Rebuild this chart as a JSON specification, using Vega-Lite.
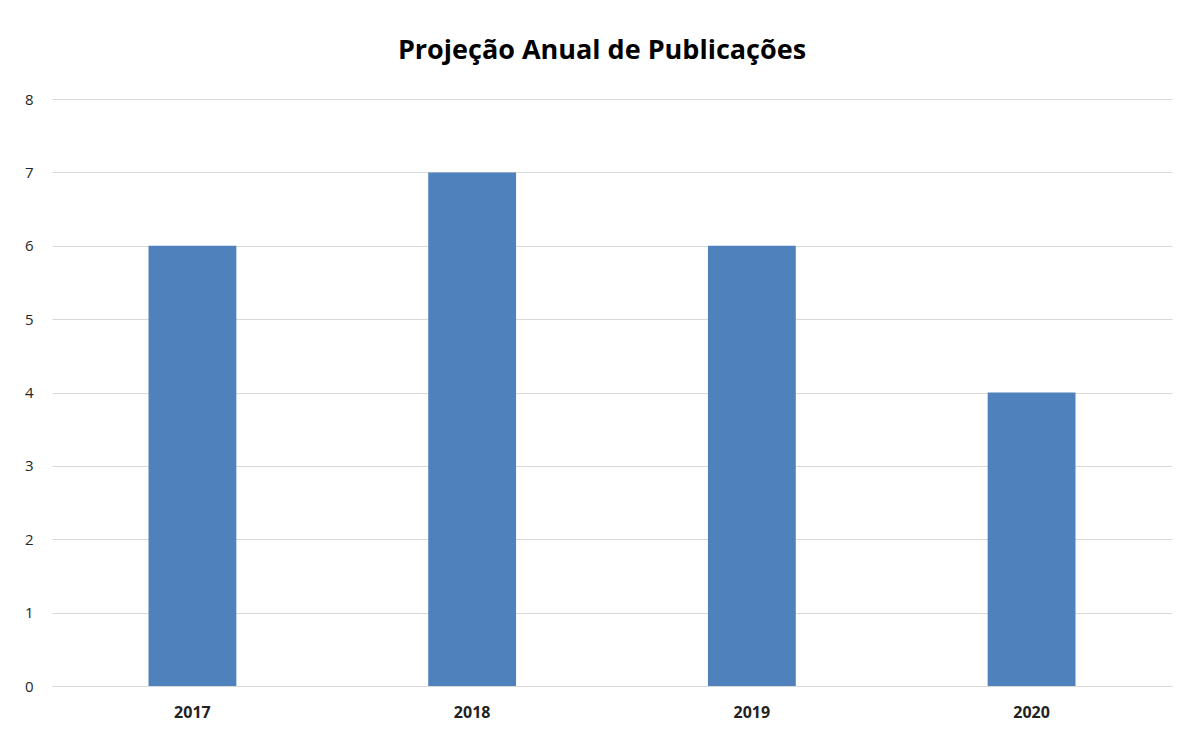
{
  "$schema": "https://vega.github.io/schema/vega-lite/v6.json",
  "autosize": "none",
  "width": 1120,
  "height": 587,
  "padding": {"left": 52, "top": 99, "right": 15, "bottom": 47},
  "background": "white",
  "title": {
    "text": "Projeção Anual de Publicações",
    "font": "Open Sans",
    "fontSize": 27,
    "fontWeight": "bold",
    "color": "#000000",
    "anchor": "middle",
    "dx": -10,
    "offset": 27
  },
  "data": {
    "values": [
      {"ano": "2017", "publicacoes": 6},
      {"ano": "2018", "publicacoes": 7},
      {"ano": "2019", "publicacoes": 6},
      {"ano": "2020", "publicacoes": 4}
    ]
  },
  "mark": {"type": "bar", "color": "#4F81BD"},
  "encoding": {
    "x": {
      "field": "ano",
      "type": "nominal",
      "scale": {"paddingInner": 0.686, "paddingOuter": 0.345},
      "axis": {
        "title": null,
        "labelAngle": 0,
        "ticks": false,
        "domain": true,
        "domainColor": "#d9d9d9",
        "labelFont": "Open Sans",
        "labelFontSize": 16,
        "labelFontWeight": "bold",
        "labelColor": "#222222",
        "labelPadding": 18
      }
    },
    "y": {
      "field": "publicacoes",
      "type": "quantitative",
      "scale": {"domain": [0, 8]},
      "axis": {
        "title": null,
        "values": [0, 1, 2, 3, 4, 5, 6, 7, 8],
        "labelOverlap": false,
        "ticks": false,
        "domain": false,
        "gridColor": "#d9d9d9",
        "gridWidth": 1.2,
        "labelFont": "Open Sans",
        "labelFontSize": 15,
        "labelColor": "#262626",
        "labelPadding": 19
      }
    }
  },
  "config": {"view": {"stroke": null}}
}
